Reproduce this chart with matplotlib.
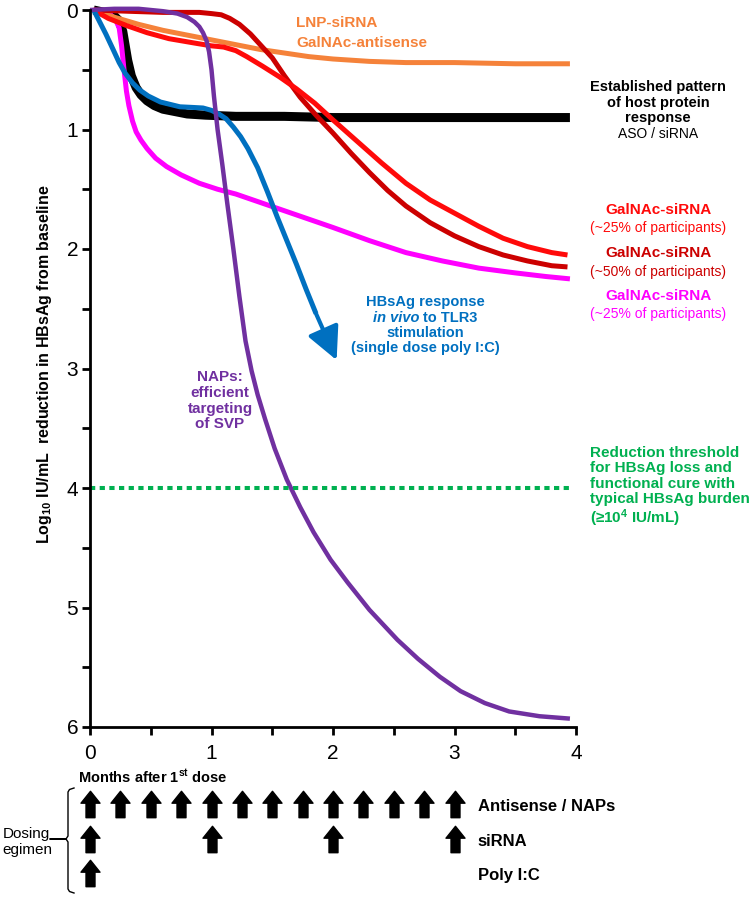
import matplotlib
matplotlib.use("Agg")
import matplotlib.pyplot as plt
from matplotlib.lines import Line2D
from matplotlib.path import Path

plt.rcParams["font.family"] = ["Liberation Sans", "DejaVu Sans"]
plt.rcParams["mathtext.fontset"] = "custom"
plt.rcParams["mathtext.rm"] = "Liberation Sans"
plt.rcParams["mathtext.bf"] = "Liberation Sans:bold"
plt.rcParams["mathtext.it"] = "Liberation Sans:italic"

# ---- curves (months after 1st dose, log10 reduction) ----
black_x = [0.03, 0.12, 0.2, 0.24, 0.27, 0.29, 0.31, 0.34, 0.38, 0.42, 0.47, 0.53, 0.6, 0.7, 0.8,
           0.95, 1.2, 1.6, 2.0, 2.5, 3.0, 3.5, 3.95]
black_y = [0.0, 0.02, 0.05, 0.09, 0.18, 0.3, 0.42, 0.55, 0.65, 0.71, 0.76, 0.8, 0.83, 0.85, 0.87,
           0.88, 0.89, 0.89, 0.9, 0.9, 0.9, 0.9, 0.9]

magenta_x = [0.03, 0.1, 0.17, 0.21, 0.24, 0.26, 0.28, 0.3, 0.32, 0.35, 0.38, 0.42, 0.47, 0.54, 0.63,
             0.75, 0.9, 1.05, 1.2, 1.4, 1.6, 1.8, 2.0, 2.3, 2.6, 2.9, 3.2, 3.5, 3.75, 3.95]
magenta_y = [0.0, 0.01, 0.04, 0.08, 0.15, 0.3, 0.5, 0.68, 0.8, 0.93, 1.02, 1.09, 1.16, 1.24, 1.31,
             1.38, 1.45, 1.5, 1.54, 1.61, 1.68, 1.75, 1.82, 1.93, 2.03, 2.1, 2.16, 2.2, 2.23, 2.25]

orange_x = [0.03, 0.2, 0.4, 0.6, 0.8, 1.0, 1.2, 1.4, 1.6, 1.8, 2.0, 2.3, 2.6, 3.0, 3.5, 3.95]
orange_y = [0.0, 0.06, 0.12, 0.17, 0.21, 0.25, 0.29, 0.33, 0.36, 0.39, 0.41, 0.43, 0.44, 0.44, 0.45, 0.45]

darkred_x = [0.03, 0.3, 0.6, 0.9, 1.0, 1.08, 1.15, 1.23, 1.32, 1.41, 1.5, 1.6, 1.73, 1.86, 2.0,
             2.15, 2.3, 2.45, 2.6, 2.8, 3.0, 3.2, 3.4, 3.6, 3.8, 3.93]
darkred_y = [0.0, 0.01, 0.02, 0.02, 0.03, 0.04, 0.07, 0.12, 0.2, 0.3, 0.4, 0.55, 0.73, 0.88, 1.03,
             1.2, 1.36, 1.51, 1.64, 1.78, 1.89, 1.98, 2.05, 2.1, 2.14, 2.15]

red_x = [0.03, 0.15, 0.3, 0.47, 0.65, 0.88, 1.0, 1.1, 1.2, 1.29, 1.42, 1.56, 1.7, 1.85, 2.0,
         2.2, 2.4, 2.6, 2.8, 3.0, 3.2, 3.4, 3.6, 3.8, 3.93]
red_y = [0.0, 0.07, 0.13, 0.19, 0.24, 0.28, 0.3, 0.31, 0.34, 0.39, 0.47, 0.56, 0.66, 0.78, 0.92,
         1.1, 1.28, 1.45, 1.59, 1.7, 1.81, 1.91, 1.98, 2.03, 2.05]

blue_x = [0.03, 0.08, 0.13, 0.19, 0.24, 0.29, 0.35, 0.41, 0.48, 0.58, 0.66, 0.74, 0.84, 0.93, 1.0,
          1.06, 1.12, 1.18, 1.24, 1.3, 1.38, 1.46, 1.54, 1.62, 1.7, 1.78, 1.86]
blue_y = [0.0, 0.1, 0.2, 0.33, 0.44, 0.53, 0.61, 0.67, 0.72, 0.77, 0.79, 0.81, 0.815, 0.82, 0.84,
          0.87, 0.91, 0.98, 1.06, 1.16, 1.32, 1.52, 1.73, 1.93, 2.13, 2.34, 2.54]
blue_tip = (2.03, 2.93)

purple_x = [0.0, 0.2, 0.4, 0.6, 0.72, 0.8, 0.86, 0.9, 0.93, 0.96, 0.98, 1.0, 1.02, 1.05, 1.09,
            1.13, 1.18, 1.23, 1.28, 1.33, 1.38, 1.44, 1.52, 1.62, 1.73, 1.84, 1.98, 2.12, 2.3,
            2.53, 2.7, 2.88, 3.05, 3.25, 3.45, 3.7, 3.95]
purple_y = [0.0, -0.01, -0.01, 0.01, 0.03, 0.06, 0.1, 0.14, 0.19, 0.26, 0.35, 0.5, 0.72, 1.0, 1.3,
            1.62, 2.0, 2.4, 2.77, 3.02, 3.22, 3.42, 3.67, 3.93, 4.16, 4.37, 4.6, 4.79, 5.02,
            5.27, 5.43, 5.58, 5.7, 5.8, 5.87, 5.91, 5.93]

threshold_x = [0.0, 3.97]
threshold_y = 4.0

# ---- dosing regimen (months) ----
dose_rows = ["Antisense / NAPs", "siRNA", "Poly I:C"]
antisense_doses = [0, 0.25, 0.5, 0.75, 1.0, 1.25, 1.5, 1.75, 2.0, 2.25, 2.5, 2.75, 3.0]
sirna_doses = [0, 1, 2, 3]
polyic_doses = [0]

x_ticks = [0, 1, 2, 3, 4]
x_minor = [0.5, 1.5, 2.5, 3.5]
y_ticks = [0, 1, 2, 3, 4, 5, 6]
y_minor = [0.5, 1.5, 2.5, 3.5, 4.5, 5.5]

ORANGE = "#F5823A"
RED = "#FF0A0A"
DARKRED = "#CC0000"
BLACK = "#000000"
BLUE = "#0070C0"
MAGENTA = "#FF00FF"
PURPLE = "#7030A0"
GREEN = "#00B050"

W, H = 756, 900
fig = plt.figure(figsize=(W / 100, H / 100), dpi=100)


def fx(px):
    return px / W


def fy(py):
    return 1 - py / H


ax = fig.add_axes([fx(90), fy(727), 486 / W, 717 / H])
ax.set_xlim(0, 4)
ax.set_ylim(6, 0)
for s in ["top", "right"]:
    ax.spines[s].set_visible(False)
for s in ["left", "bottom"]:
    ax.spines[s].set_linewidth(2.0)
ax.set_xticks(x_ticks)
ax.set_xticks(x_minor, minor=True)
ax.set_yticks(y_ticks)
ax.set_yticks(y_minor, minor=True)
ax.tick_params(which="both", direction="out", length=5.5, width=2.0, labelsize=15)
ax.tick_params(axis="y", pad=3)
ax.tick_params(axis="x", pad=7)

common = dict(clip_on=False, solid_capstyle="butt", solid_joinstyle="round")
ax.plot(black_x, black_y, color=BLACK, lw=6.5, **common)
ax.plot(magenta_x, magenta_y, color=MAGENTA, lw=3.6, **common)
ax.plot(orange_x, orange_y, color=ORANGE, lw=3.6, **common)
ax.plot(darkred_x, darkred_y, color=DARKRED, lw=3.6, **common)
ax.plot(red_x, red_y, color=RED, lw=3.6, **common)
ax.plot(blue_x, blue_y, color=BLUE, lw=3.6, **common)
ax.annotate("", xy=blue_tip, xytext=(blue_x[-1], blue_y[-1]),
            arrowprops=dict(arrowstyle="-|>,head_length=1.0,head_width=0.5", color=BLUE, lw=3.0,
                            mutation_scale=20, shrinkA=0, shrinkB=0))
ax.plot(purple_x, purple_y, color=PURPLE, lw=3.2, **common)
ax.plot(threshold_x, [threshold_y] * len(threshold_x), color=GREEN, lw=2.9,
        linestyle=(0, (1.3, 1.1)), dash_capstyle="butt")


def lines(x, ys, texts, color, size=11, weight="bold", ha="center", style="normal"):
    for y, t in zip(ys, texts):
        fig.text(fx(x), fy(y), t, ha=ha, va="center", color=color, fontsize=size,
                 fontweight=weight, fontstyle=style)


# labels
lines(296, [23, 43], ["LNP-siRNA", "GalNAc-antisense"], ORANGE, ha="left")
lines(658, [87, 103, 118], ["Established pattern", "of host protein", "response"], BLACK, size=10.5)
lines(658, [134], ["ASO / siRNA"], BLACK, size=10, weight="normal")
lines(658, [210], ["GalNAc-siRNA"], RED)
lines(658, [228], ["(~25% of participants)"], RED, size=10, weight="normal")
lines(658, [253], ["GalNAc-siRNA"], DARKRED)
lines(658, [272], ["(~50% of participants)"], DARKRED, size=10, weight="normal")
lines(658, [296], ["GalNAc-siRNA"], MAGENTA)
lines(658, [314], ["(~25% of participants)"], MAGENTA, size=10, weight="normal")

lines(425, [302, 333, 348], ["HBsAg response", "stimulation", "(single dose poly I:C)"], BLUE, size=10.5)
lines(419, [318], ["in vivo"], BLUE, size=10.5, ha="right", style="italic")
lines(423, [318], ["to TLR3"], BLUE, size=10.5, ha="left")

lines(220, [377, 393, 409, 424], ["NAPs:", "efficient", "targeting", "of SVP"], PURPLE)

lines(590, [453, 468, 484, 499], ["Reduction threshold", "for HBsAg loss and",
                                  "functional cure with", "typical HBsAg burden"], GREEN, ha="left")
lines(590, [518], ["(\u226510$^{\\mathbf{4}}$ IU/mL)"], GREEN, ha="left")

fig.text(fx(45), fy(364), "Log$_{\\mathbf{10}}$ IU/mL  reduction in HBsAg from baseline",
         rotation=90, ha="center", va="center", fontsize=11.5, fontweight="bold")
fig.text(fx(78), fy(777), "Months after 1$^{\\mathbf{st}}$ dose", ha="left", va="center",
         fontsize=10.5, fontweight="bold")

# ---- dosing regimen panel ----
ax2 = fig.add_axes([fx(90), fy(897), 486 / W, 110 / H])
ax2.set_xlim(0, 4)
ax2.set_ylim(2.7, -0.5)
ax2.axis("off")

arrow_marker = Path([(-0.34, -1), (0.34, -1), (0.34, 0.1), (0.72, 0.1), (0, 1),
                     (-0.72, 0.1), (-0.34, 0.1), (-0.34, -1)],
                    [Path.MOVETO] + [Path.LINETO] * 6 + [Path.CLOSEPOLY])
for row, doses in enumerate([antisense_doses, sirna_doses, polyic_doses]):
    ax2.plot(doses, [row] * len(doses), linestyle="none", marker=arrow_marker,
             markersize=19, color=BLACK, clip_on=False)
    ax2.text(3.19, row + 0.08, dose_rows[row], ha="left", va="center", fontsize=12,
             fontweight="bold")

brace = Line2D([fx(74), fx(69.5), fx(68), fx(68), fx(66), fx(50), fx(66), fx(68), fx(68),
                fx(69.5), fx(74)],
               [fy(788), fy(789.5), fy(792), fy(836), fy(839), fy(839), fy(839), fy(842),
                fy(889), fy(891.5), fy(893)],
               transform=fig.transFigure, color=BLACK, lw=1.0)
fig.add_artist(brace)
fig.text(fx(26), fy(834), "Dosing", ha="center", va="center", fontsize=11)
fig.text(fx(27), fy(850), "egimen", ha="center", va="center", fontsize=11)

fig.savefig("out.png", dpi=100)
